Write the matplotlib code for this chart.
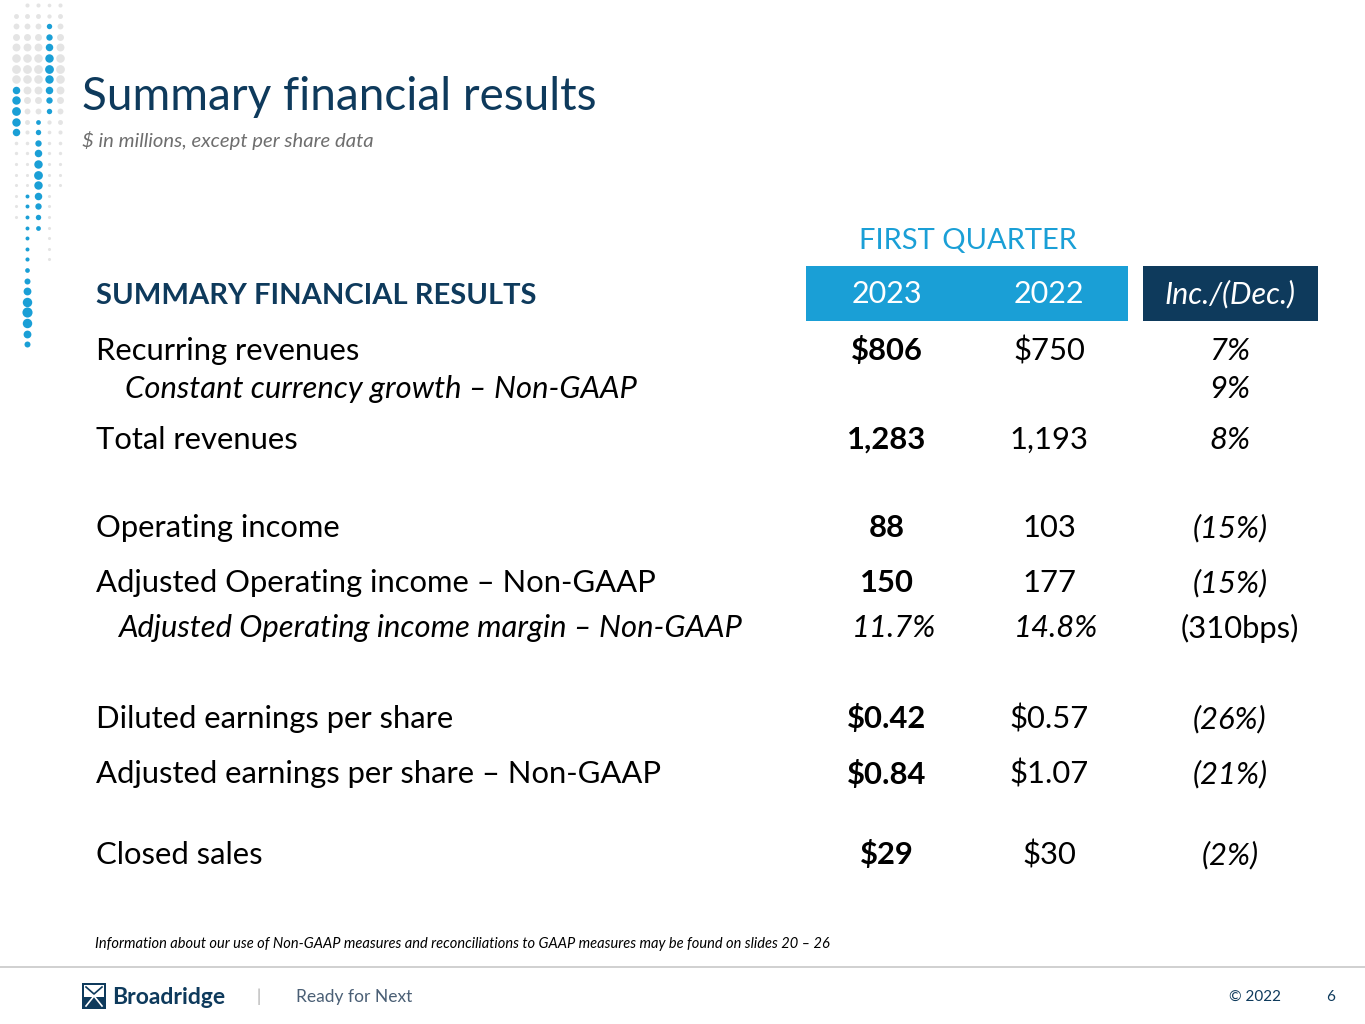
import numpy as np
import matplotlib.pyplot as plt
from matplotlib.patches import Rectangle

plt.rcParams['font.family'] = ['Lato', 'DejaVu Sans']

# Colours
navy = '#0E3A5C'
blue = '#1A9FD6'
grey_txt = '#6E6E6E'

# Table data
title = 'Summary financial results'
subtitle = '$ in millions, except per share data'
period = 'FIRST QUARTER'
col_heads = ['2023', '2022', 'Inc./(Dec.)']
row_labels = ['Recurring revenues',
              'Constant currency growth \u2013 Non-GAAP',
              'Total revenues',
              'Operating income',
              'Adjusted Operating income \u2013 Non-GAAP',
              'Adjusted Operating income margin \u2013 Non-GAAP',
              'Diluted earnings per share',
              'Adjusted earnings per share \u2013 Non-GAAP',
              'Closed sales']
vals_2023 = ['$806', '', '1,283', '88', '150', '11.7%', '$0.42', '$0.84', '$29']
vals_2022 = ['$750', '', '1,193', '103', '177', '14.8%', '$0.57', '$1.07', '$30']
vals_chg = ['7%', '9%', '8%', '(15%)', '(15%)', '(310bps)', '(26%)', '(21%)', '(2%)']
footnote = ('Information about our use of Non-GAAP measures and reconciliations '
            'to GAAP measures may be found on slides 20 \u2013 26')

# layout (pixels, y down)
row_y = [351, 389, 440, 528, 583, 628, 719, 774, 855]
label_x = [96, 125, 96, 96, 96, 118, 96, 96, 96]
sub_rows = [1, 5]
x23, x22, xchg = 887, 1049, 1230
fs = 22.3

fig = plt.figure(figsize=(13.65, 10.24), dpi=100)
ax = fig.add_axes([0, 0, 1, 1])
ax.set_xlim(0, 1365)
ax.set_ylim(1024, 0)
ax.axis('off')

# decorative dot column
dot_cols = [16, 27, 38, 49, 60]
blue_runs = {16: (8, 12), 27: (18, 32), 38: (11, 21), 49: (2, 10), 60: (99, 0)}
grey_runs = {16: (1, 20), 27: (0, 17), 38: (0, 10), 49: (0, 24), 60: (0, 17)}
for cx in dot_cols:
    b0, b1 = blue_runs[cx]
    g0, g1 = grey_runs[cx]
    for r in range(0, 33):
        y = 5 + r * 10.6
        if b0 <= r <= b1:
            mid = (b0 + b1) / 2
            s = 10 + 30 * np.exp(-((r - mid) / 3.0) ** 2)
            if cx == 27:
                s = 8 + 45 * np.exp(-((r - 29) / 2.5) ** 2)
            ax.scatter(cx, y, s=s, color=blue, lw=0)
        elif g0 <= r <= g1:
            s = 5 + 35 * np.exp(-((r - 6) / 4.0) ** 2) * (1 if cx != 49 else 0.6)
            ax.scatter(cx, y, s=s, color='#E4E4E4', lw=0)

ax.text(82, 97, title, fontsize=33, color=navy, va='center')
ax.text(82, 141, subtitle, fontsize=14.6, color=grey_txt, style='italic', va='center')

ax.text(968, 241, period, fontsize=21, color=blue, ha='center', va='center')
ax.add_patch(Rectangle((806, 266), 322, 55, color=blue, lw=0))
ax.add_patch(Rectangle((1143, 266), 175, 55, color=navy, lw=0))
ax.text(887, 294, col_heads[0], fontsize=22, color='white', ha='center', va='center')
ax.text(1049, 294, col_heads[1], fontsize=22, color='white', ha='center', va='center')
ax.text(1230, 294, col_heads[2], fontsize=22, color='white', ha='center', va='center',
        style='italic')
ax.text(96, 296, 'SUMMARY FINANCIAL RESULTS', fontsize=21, color=navy,
        fontweight='bold', va='center')

for i, lab in enumerate(row_labels):
    y = row_y[i]
    is_sub = i in sub_rows
    ax.text(label_x[i], y, lab, fontsize=fs, color='black', va='center',
            style='italic' if is_sub else 'normal')
    ax.text(x23 + (7 if i == 5 else 0), y, vals_2023[i], fontsize=fs, color='black',
            ha='center', va='center', fontweight='bold' if i != 5 else 'normal',
            style='italic' if i == 5 else 'normal')
    ax.text(x22 + (7 if i == 5 else 0), y, vals_2022[i], fontsize=fs, color='black',
            ha='center', va='center', style='italic' if i == 5 else 'normal')
    ax.text(xchg + (10 if i == 5 else 0), y, vals_chg[i], fontsize=fs, color='black',
            ha='center', va='center', style='normal' if i == 5 else 'italic')

ax.text(95, 944, footnote, fontsize=10.5, color='black', style='italic', va='center')

# footer
ax.plot([0, 1365], [967, 967], color='#C8C8C8', lw=1.2)
ax.add_patch(Rectangle((82, 983), 24, 26, color=navy, lw=0))
ax.add_patch(Rectangle((84, 985), 20, 12, color='white', lw=0))
ax.plot([86, 94, 102], [987, 994, 987], color=navy, lw=1.2)
ax.plot([86, 94, 102], [1006, 996, 1006], color='white', lw=1.2)
ax.text(112, 997, 'Broadridge', fontsize=16.5, color=navy, fontweight='bold', va='center')
ax.text(259, 997, '|', fontsize=12, color='#AAAAAA', ha='center', va='center')
ax.text(296, 997, 'Ready for Next', fontsize=12.5, color='#4A5F75', va='center')
ax.text(1255, 997, '\u00a9 2022', fontsize=11, color=navy, ha='center', va='center')
ax.text(1331, 997, '6', fontsize=11, color=navy, ha='center', va='center')

fig.savefig('out.png', dpi=100)
